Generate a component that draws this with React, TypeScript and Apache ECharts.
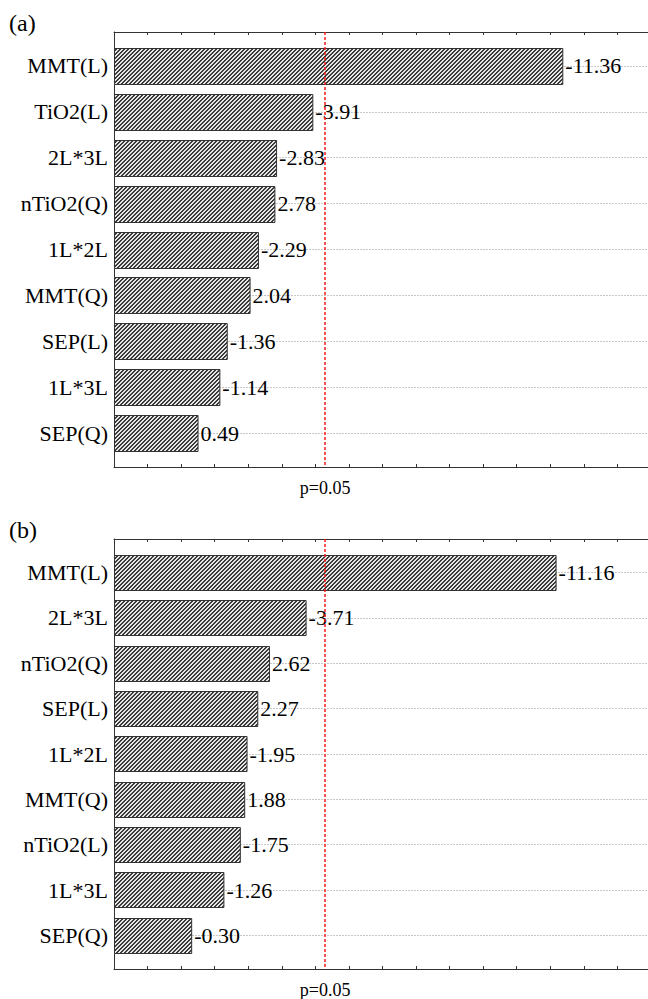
import React, { useEffect, useRef } from "react";
import * as echarts from "echarts";

// ---- data ----
const catsA = ["MMT(L)", "TiO2(L)", "2L*3L", "nTiO2(Q)", "1L*2L", "MMT(Q)", "SEP(L)", "1L*3L", "SEP(Q)"];
const valsA = [-11.36, -3.91, -2.83, 2.78, -2.29, 2.04, -1.36, -1.14, 0.49];
const catsB = ["MMT(L)", "2L*3L", "nTiO2(Q)", "SEP(L)", "1L*2L", "MMT(Q)", "nTiO2(L)", "1L*3L", "SEP(Q)"];
const valsB = [-11.16, -3.71, 2.62, 2.27, -1.95, 1.88, -1.75, -1.26, -0.3];
const panelTitles = ["(a)", "(b)"];
const pLabel = "p=0.05";
const P_CRIT = 4.29;

// ---- layout / style ----
const X_MIN = -2;
const X_MAX = 16;
const Y_MIN = -0.74;
const Y_MAX = 8.74;
const BAR_RATIO = 0.78;
const SERIF = "Liberation Serif";

function makePattern(): HTMLCanvasElement {
  const c = document.createElement("canvas");
  c.width = 4;
  c.height = 4;
  const ctx = c.getContext("2d")!;
  for (let y = 0; y < 4; y++) {
    for (let x = 0; x < 4; x++) {
      ctx.fillStyle = (x + y) % 4 < 2 ? "#3a3a3a" : "#e6e6e6";
      ctx.fillRect(x, y, 1, 1);
    }
  }
  return c;
}

export default function App() {
  const ref = useRef<HTMLDivElement>(null);
  useEffect(() => {
    if (!ref.current) return;
    const chart = echarts.init(ref.current, undefined, { renderer: "svg" });
    const pattern = { image: makePattern(), repeat: "repeat" };
    const panels = [
      { cats: catsA, vals: valsA, top: 32 },
      { cats: catsB, vals: valsB, top: 539 },
    ];
    const idx = catsA.map((_, i) => i);

    const grids: any[] = [];
    const xAxes: any[] = [];
    const yAxes: any[] = [];
    const series: any[] = [];
    const titles: any[] = [];

    panels.forEach((p, g) => {
      grids.push({ left: 114, top: p.top, width: 604, height: 435, containLabel: false });
      titles.push({
        text: panelTitles[g],
        left: 9,
        top: p.top - 21,
        padding: 0,
        textStyle: { fontSize: 24, fontWeight: "normal", fontFamily: SERIF, color: "#000", lineHeight: 24 },
      });
      // bottom x axis
      xAxes.push({
        type: "value",
        gridIndex: g,
        position: "bottom",
        min: X_MIN,
        max: X_MAX,
        interval: 1,
        axisLine: { show: true, onZero: false, lineStyle: { color: "#333", width: 1 } },
        axisTick: { show: true, inside: true, length: 3, lineStyle: { color: "#333" } },
        axisLabel: {
          show: true,
          customValues: [P_CRIT],
          formatter: () => pLabel,
          margin: 12,
          fontSize: 18,
          fontFamily: SERIF,
          color: "#000",
        },
        splitLine: { show: false },
      });
      // top x axis (frame)
      xAxes.push({
        type: "value",
        gridIndex: g,
        position: "top",
        min: X_MIN,
        max: X_MAX,
        interval: 1,
        axisLine: { show: true, onZero: false, lineStyle: { color: "#333", width: 1 } },
        axisTick: { show: true, inside: true, length: 3, lineStyle: { color: "#333" } },
        axisLabel: { show: false },
        splitLine: { show: false },
      });
      yAxes.push({
        type: "value",
        gridIndex: g,
        inverse: true,
        min: Y_MIN,
        max: Y_MAX,
        axisLine: { show: true, onZero: false, lineStyle: { color: "#333", width: 1 } },
        axisTick: { show: true, inside: true, length: 3, customValues: idx, lineStyle: { color: "#333" } },
        axisLabel: {
          show: true,
          customValues: idx,
          formatter: (v: number) => p.cats[Math.round(v)] ?? "",
          margin: 6,
          fontSize: 22,
          fontFamily: SERIF,
          color: "#000",
        },
        splitLine: { show: true, lineStyle: { color: "#c8c8c8", width: 1, type: [2, 1] } },
      });
      series.push({
        type: "custom",
        xAxisIndex: g * 2,
        yAxisIndex: g,
        data: p.vals.map((v, i) => [Math.abs(v), i, v]),
        encode: { x: 0, y: 1 },
        renderItem: (_params: any, api: any) => {
          const i = api.value(1);
          const a = api.value(0);
          const v = api.value(2);
          const s = api.coord([X_MIN, i]);
          const e = api.coord([a, i]);
          const h = api.size([0, 1])[1] * BAR_RATIO;
          return {
            type: "group",
            children: [
              {
                type: "rect",
                shape: { x: Math.round(s[0]) + 0.5, y: Math.round(s[1] - h / 2) + 0.5, width: e[0] - s[0], height: Math.round(h) },
                style: { fill: pattern, stroke: "#333", lineWidth: 1 },
              },
              {
                type: "text",
                x: e[0] + 3,
                y: e[1],
                style: {
                  text: v.toFixed(2),
                  fill: "#000",
                  fontSize: 22,
                  fontFamily: SERIF,
                  verticalAlign: "middle",
                  align: "left",
                },
              },
            ],
          };
        },
      });
      series.push({
        type: "line",
        xAxisIndex: g * 2,
        yAxisIndex: g,
        data: [],
        silent: true,
        markLine: {
          silent: true,
          symbol: "none",
          label: { show: false },
          lineStyle: { color: "#ff1a1a", width: 1.5, type: [3, 2] },
          data: [{ xAxis: P_CRIT }],
        },
      });
    });

    chart.setOption({
      animation: false,
      backgroundColor: "#fff",
      title: titles,
      grid: grids,
      xAxis: xAxes,
      yAxis: yAxes,
      series,
    });
    return () => chart.dispose();
  }, []);
  return (
    <div
      style={{ position: "absolute", left: 0, top: 0, width: 648, height: 999, overflow: "hidden", background: "#fff" }}
    >
      <div ref={ref} style={{ width: 740, height: 999 }} />
    </div>
  );
}
